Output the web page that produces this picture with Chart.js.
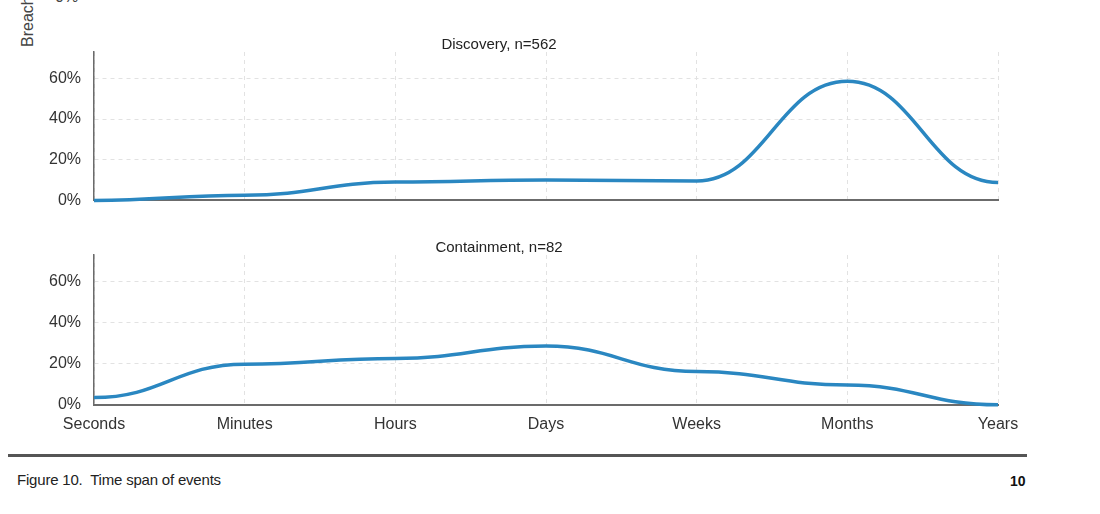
<!DOCTYPE html>
<html>
<head>
<meta charset="utf-8">
<script src="https://cdn.jsdelivr.net/npm/chart.js@4.4.1/dist/chart.umd.min.js"></script>
<style>
  html, body { margin: 0; padding: 0; background: #fff; }
  body { width: 1100px; height: 514px; position: relative; overflow: hidden; font-family: "Liberation Sans", Arial, sans-serif; color: #333; }
  .chart-box { position: absolute; left: 0; width: 1100px; }
  #box-discovery { top: 0; height: 223px; }
  #box-containment { top: 205px; height: 252px; }
  .cut-label { position: absolute; font-size: 16px; color: #444; white-space: nowrap; }
  #axis-title { left: 28px; top: 47px; transform-origin: 0 0; transform: rotate(-90deg) translateY(-50%); }
  #cut-tick { left: 55px; top: -12px; }
  #rule { position: absolute; left: 8px; top: 454px; width: 1019px; height: 3px; background: #555; }
  #caption { position: absolute; left: 17px; top: 471px; font-size: 15px; color: #222; letter-spacing: -0.2px; }
  #page-no { position: absolute; left: 1010px; top: 473px; font-size: 14px; font-weight: bold; color: #111; }
</style>
</head>
<body>
<div class="cut-label" id="axis-title">Breaches</div>
<div class="cut-label" id="cut-tick">0%</div>

<div class="chart-box" id="box-discovery"><canvas id="chart-discovery"></canvas></div>
<div class="chart-box" id="box-containment"><canvas id="chart-containment"></canvas></div>

<div id="rule"></div>
<div id="caption">Figure 10.&nbsp; Time span of events</div>
<div id="page-no">10</div>

<script>
(function () {
  'use strict';

  // time buckets on the x axis
  var categories = ['Seconds', 'Minutes', 'Hours', 'Days', 'Weeks', 'Months', 'Years'];

  // share of breaches (%) per bucket
  var discovery = [0, 2.5, 9, 10, 9.5, 58.6, 8.8];
  var containment = [3.5, 19.8, 22.6, 28.6, 16.2, 9.6, 0];

  var yTicks = [0, 20, 40, 60];
  var yMax = 73;

  var FONT = '"Liberation Sans", Arial, sans-serif';
  var LINE = '#2a87c1';
  var GRID = '#e2e2e2';
  var AXIS = '#6b6b6b';

  // curve flattens out at every category, like the original figure
  var flatKnots = {
    id: 'flatKnots',
    beforeDatasetDraw: function (chart, args) {
      var meta = args.meta;
      var line = meta.dataset;
      var pts = meta.data;
      if (!line || !pts.length) return;
      line.updateControlPoints(chart.chartArea, meta.indexAxis);
      var k = 0.45;
      for (var i = 0; i < pts.length; i++) {
        var p = pts[i];
        var dPrev = i > 0 ? p.x - pts[i - 1].x : 0;
        var dNext = i < pts.length - 1 ? pts[i + 1].x - p.x : 0;
        p.cp1x = p.x - k * dPrev; p.cp1y = p.y;
        p.cp2x = p.x + k * dNext; p.cp2y = p.y;
      }
      delete line._path;
    }
  };

  function makeChart(id, title, values, showX, titleTop, padBottom) {
    var canvas = document.getElementById(id);
    return new Chart(canvas, {
      type: 'line',
      data: {
        labels: categories,
        datasets: [{
          data: values,
          borderColor: LINE,
          borderWidth: 3.5,
          pointRadius: 0,
          fill: false,
          tension: 0.4,
          clip: 6
        }]
      },
      options: {
        responsive: true,
        maintainAspectRatio: false,
        animation: false,
        events: [],
        layout: { padding: { left: 0, right: 102, top: 0, bottom: padBottom } },
        plugins: {
          legend: { display: false },
          tooltip: { enabled: false },
          title: {
            display: true,
            text: title,
            color: '#222',
            font: { family: FONT, size: 15, weight: 'normal', lineHeight: 1 },
            padding: { top: titleTop, bottom: 0 }
          }
        },
        scales: {
          x: {
            offset: false,
            grid: { color: GRID, lineWidth: 1, drawTicks: false },
            border: { display: true, color: AXIS, width: 2, dash: [4, 4] },
            ticks: {
              display: showX,
              color: '#333',
              padding: 10,
              maxRotation: 0,
              autoSkip: false,
              font: { family: FONT, size: 16 }
            }
          },
          y: {
            min: 0,
            max: yMax,
            afterFit: function (scale) { scale.width = 94; },
            afterBuildTicks: function (scale) {
              scale.ticks = yTicks.map(function (v) { return { value: v }; });
            },
            grid: {
              color: function (ctx) { return ctx.tick && ctx.tick.value === 0 ? 'rgba(0,0,0,0)' : GRID; },
              lineWidth: 1,
              drawTicks: false
            },
            border: { display: true, color: AXIS, width: 1.5, dash: [4, 4] },
            ticks: {
              color: '#333',
              padding: 13,
              font: { family: FONT, size: 16 },
              callback: function (v) { return v + '%'; }
            }
          }
        }
      },
      plugins: [flatKnots]
    });
  }

  makeChart('chart-discovery', 'Discovery, n=562', discovery, false, 37, 0);
  makeChart('chart-containment', 'Containment, n=82', containment, true, 35, 13);
})();
</script>
</body>
</html>
